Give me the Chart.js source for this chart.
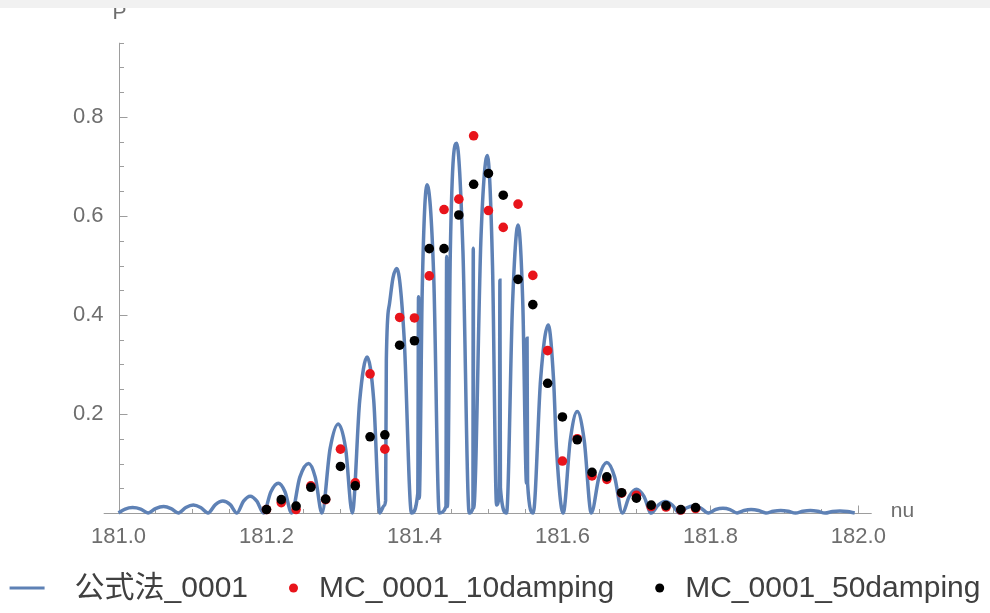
<!DOCTYPE html>
<html>
<head>
<meta charset="utf-8">
<script src="https://cdn.jsdelivr.net/npm/chart.js@4.4.1/dist/chart.umd.min.js"></script>
<style>
  html, body { margin: 0; padding: 0; background: #fff; }
</style>
</head>
<body>
<canvas id="chart" width="990" height="613"></canvas>
<script>
// 公式法 curve (nu, P)
const curveNu = [
  181.000, 181.009, 181.019, 181.030, 181.040,
  181.050, 181.061, 181.071, 181.081,
  181.091, 181.101, 181.111, 181.121,
  181.131, 181.141, 181.151, 181.160,
  181.169, 181.178, 181.187, 181.196,
  181.206, 181.216, 181.225, 181.234,
  181.245, 181.257, 181.266, 181.275,
  181.286, 181.297, 181.307, 181.316,
  181.326, 181.336, 181.345, 181.353,
  181.359, 181.361, 181.362, 181.366, 181.371, 181.376, 181.386, 181.396,
  181.4045, 181.4055, 181.4065, 181.4105, 181.417, 181.426, 181.4335,
  181.4425, 181.4435, 181.4445, 181.4485, 181.457, 181.4655, 181.474,
  181.479, 181.4795, 181.480, 181.490, 181.4985, 181.5055, 181.511,
  181.5148, 181.5155, 181.5162, 181.5245,
  181.5325, 181.540, 181.5465, 181.5515, 181.5522, 181.5529, 181.5605,
  181.5705, 181.5808, 181.588, 181.592, 181.601,
  181.6105, 181.620, 181.6295, 181.639,
  181.6495, 181.660, 181.6705, 181.681,
  181.6905, 181.700, 181.710, 181.720,
  181.7295, 181.739, 181.7485, 181.758,
  181.7675, 181.777, 181.787, 181.797,
  181.807, 181.817, 181.8265, 181.836,
  181.8455, 181.855, 181.865, 181.875,
  181.885, 181.895, 181.905, 181.915,
  181.925, 181.935, 181.945, 181.955,
  181.965, 181.975, 181.985, 181.995
];
const curveP = [
  0, 0.008, 0.011, 0.008, 0,
  0.009, 0.013, 0.009, 0,
  0.011, 0.016, 0.011, 0,
  0.017, 0.024, 0.017, 0,
  0.024, 0.034, 0.024, 0,
  0.043, 0.060, 0.043, 0,
  0.072, 0.100, 0.072, 0,
  0.130, 0.180, 0.130, 0,
  0.227, 0.315, 0.227, 0,
  0.015, 0.025, 0.310, 0.420, 0.475, 0.494, 0.356, 0,
  0.040, 0.437, 0.030, 0.450, 0.663, 0.480, 0,
  0.013, 0.518, 0.013, 0.530, 0.747, 0.530, 0,
  0.010, 0.535, 0.010, 0.560, 0.722, 0.500, 0.016,
  0.050, 0.470, 0.050, 0,
  0.420, 0.582, 0.420, 0.060, 0.353, 0.060, 0,
  0.270, 0.380, 0.270, 0.130, 0,
  0.146, 0.205, 0.146, 0,
  0.073, 0.102, 0.073, 0,
  0.034, 0.048, 0.034, 0,
  0.016, 0.023, 0.016, 0,
  0.010, 0.014, 0.010, 0,
  0.007, 0.0095, 0.007, 0,
  0.005, 0.007, 0.005, 0,
  0.0035, 0.005, 0.0035, 0,
  0.0035, 0.005, 0.0035, 0,
  0.003, 0.004, 0.003, 0
];

// Monte Carlo samples
const sampleNu = [
  181.20, 181.22, 181.24, 181.26, 181.28, 181.30, 181.32, 181.34, 181.36, 181.38,
  181.40, 181.42, 181.44, 181.46, 181.48, 181.50, 181.52, 181.54, 181.56, 181.58,
  181.60, 181.62, 181.64, 181.66, 181.68, 181.70, 181.72, 181.74, 181.76, 181.78
];
const mc10 = [
  0.007, 0.021, 0.007, 0.055, 0.027, 0.129, 0.061, 0.281, 0.129, 0.395,
  0.394, 0.479, 0.613, 0.634, 0.762, 0.611, 0.577, 0.624, 0.480, 0.328,
  0.105, 0.150, 0.075, 0.068, 0.040, 0.036, 0.013, 0.012, 0.006, 0.009
];
const mc50 = [
  0.007, 0.027, 0.014, 0.052, 0.028, 0.094, 0.055, 0.154, 0.158, 0.339,
  0.348, 0.534, 0.534, 0.602, 0.664, 0.686, 0.642, 0.472, 0.421, 0.262,
  0.194, 0.148, 0.082, 0.073, 0.041, 0.030, 0.016, 0.015, 0.007, 0.011
];

const xTicks = [181.0, 181.2, 181.4, 181.6, 181.8, 182.0];
const yTicks = [0.2, 0.4, 0.6, 0.8];

const FONT = "'Liberation Sans', Arial, 'Noto Sans CJK SC', sans-serif";
const axisColor = '#9d9d9d';
const labelColor = '#6e6e6e';

const toPoints = (xs, ys) => xs.map((v, i) => ({ x: v, y: ys[i] }));
const isMajor = (list, v) => list.some(t => Math.abs(t - v) < 1e-6);

// mathematica-like axes: crossing lines, inward ticks, end labels
const mathAxes = {
  id: 'mathAxes',
  beforeDraw(chart) {
    const ctx = chart.ctx;
    ctx.save();
    ctx.fillStyle = '#fff';
    ctx.fillRect(0, 0, chart.width, chart.height);
    ctx.restore();
  },
  beforeDatasetsDraw(chart) {
    const { ctx, scales: { x, y } } = chart;
    const x0 = Math.round(x.getPixelForValue(181.0)) + 0.5;
    const y0 = Math.round(y.getPixelForValue(0)) + 0.5;
    ctx.save();
    ctx.strokeStyle = axisColor;
    ctx.lineWidth = 1;
    ctx.beginPath();
    ctx.moveTo(x.getPixelForValue(180.98), y0);
    ctx.lineTo(x.right, y0);
    ctx.moveTo(x0, y0);
    ctx.lineTo(x0, y.getPixelForValue(y.max));
    for (let i = 0; i <= 20; i++) {
      const v = 181 + i * 0.05;
      const px = Math.round(x.getPixelForValue(v)) + 0.5;
      ctx.moveTo(px, y0);
      ctx.lineTo(px, y0 - (isMajor(xTicks, v) ? 8 : 4.5));
    }
    for (let i = 1; i <= 19; i++) {
      const v = i * 0.05;
      const py = Math.round(y.getPixelForValue(v)) + 0.5;
      ctx.moveTo(x0, py);
      ctx.lineTo(x0 + (isMajor(yTicks, v) ? 8 : 4.5), py);
    }
    ctx.stroke();

    ctx.fillStyle = labelColor;
    ctx.font = '21px ' + FONT;
    ctx.textAlign = 'left';
    ctx.textBaseline = 'middle';
    ctx.fillText('nu', x.right + 19, y0 - 2);
    ctx.textAlign = 'center';
    ctx.textBaseline = 'top';
    ctx.fillText('P', x0, 3);
    ctx.restore();
  },
  afterDraw(chart) {
    const ctx = chart.ctx;
    ctx.save();
    ctx.fillStyle = '#f1f1f1';
    ctx.fillRect(0, 0, chart.width, 8);
    ctx.restore();
  }
};

// legend row under the plot
const bottomLegend = {
  id: 'bottomLegend',
  afterDraw(chart) {
    const ctx = chart.ctx;
    const cy = 588;
    ctx.save();
    ctx.font = '30px ' + FONT;
    ctx.textBaseline = 'middle';
    ctx.textAlign = 'left';
    const parts = chart.data.datasets.map(ds => {
      const isLine = ds.type === 'line';
      return { ds, isLine, sw: isLine ? 35 : 9, gap: isLine ? 30 : 21, tw: ctx.measureText(ds.label).width };
    });
    const sep = 41;
    const total = parts.reduce((s, p) => s + p.sw + p.gap + p.tw, 0) + sep * (parts.length - 1);
    let cx = (chart.width - total) / 2;
    parts.forEach(p => {
      if (p.isLine) {
        ctx.strokeStyle = p.ds.borderColor;
        ctx.lineWidth = 3;
        ctx.beginPath();
        ctx.moveTo(cx, cy);
        ctx.lineTo(cx + p.sw, cy);
        ctx.stroke();
      } else {
        ctx.fillStyle = p.ds.backgroundColor;
        ctx.beginPath();
        ctx.arc(cx + p.sw / 2, cy, 4.5, 0, Math.PI * 2);
        ctx.fill();
      }
      cx += p.sw + p.gap;
      ctx.fillStyle = '#404040';
      ctx.fillText(p.ds.label, cx, cy + 1);
      cx += p.tw + sep;
    });
    ctx.restore();
  }
};

new Chart(document.getElementById('chart'), {
  type: 'scatter',
  data: {
    datasets: [
      {
        type: 'line',
        label: '公式法_0001',
        data: toPoints(curveNu, curveP),
        borderColor: '#5e81b5',
        borderWidth: 3.5,
        pointRadius: 0,
        cubicInterpolationMode: 'monotone',
        fill: false,
        clip: false,
        order: 3
      },
      {
        label: 'MC_0001_10damping',
        data: toPoints(sampleNu, mc10),
        backgroundColor: '#e8141b',
        borderWidth: 0,
        pointRadius: 4.8,
        clip: false,
        order: 2
      },
      {
        label: 'MC_0001_50damping',
        data: toPoints(sampleNu, mc50),
        backgroundColor: '#000000',
        borderWidth: 0,
        pointRadius: 4.8,
        clip: false,
        order: 1
      }
    ]
  },
  options: {
    responsive: false,
    animation: false,
    events: [],
    layout: { padding: { top: 42.75, right: 118.3, bottom: 0, left: 0 } },
    plugins: {
      legend: { display: false },
      tooltip: { enabled: false }
    },
    scales: {
      x: {
        type: 'linear',
        min: 181.0,
        max: 182.018,
        grid: { display: false },
        border: { display: false },
        afterFit: s => { s.height = 100; },
        afterBuildTicks: s => { s.ticks = xTicks.map(v => ({ value: v })); },
        ticks: {
          callback: v => v.toFixed(1),
          color: labelColor,
          font: { family: FONT, size: 22 },
          padding: 3,
          maxRotation: 0,
          autoSkip: false
        }
      },
      y: {
        type: 'linear',
        min: 0,
        max: 0.95,
        grid: { display: false },
        border: { display: false },
        afterFit: s => { s.width = 118.5; },
        afterBuildTicks: s => { s.ticks = yTicks.map(v => ({ value: v })); },
        ticks: {
          callback: v => v.toFixed(1),
          color: labelColor,
          font: { family: FONT, size: 22 },
          padding: 7
        }
      }
    }
  },
  plugins: [mathAxes, bottomLegend]
});
</script>
</body>
</html>
